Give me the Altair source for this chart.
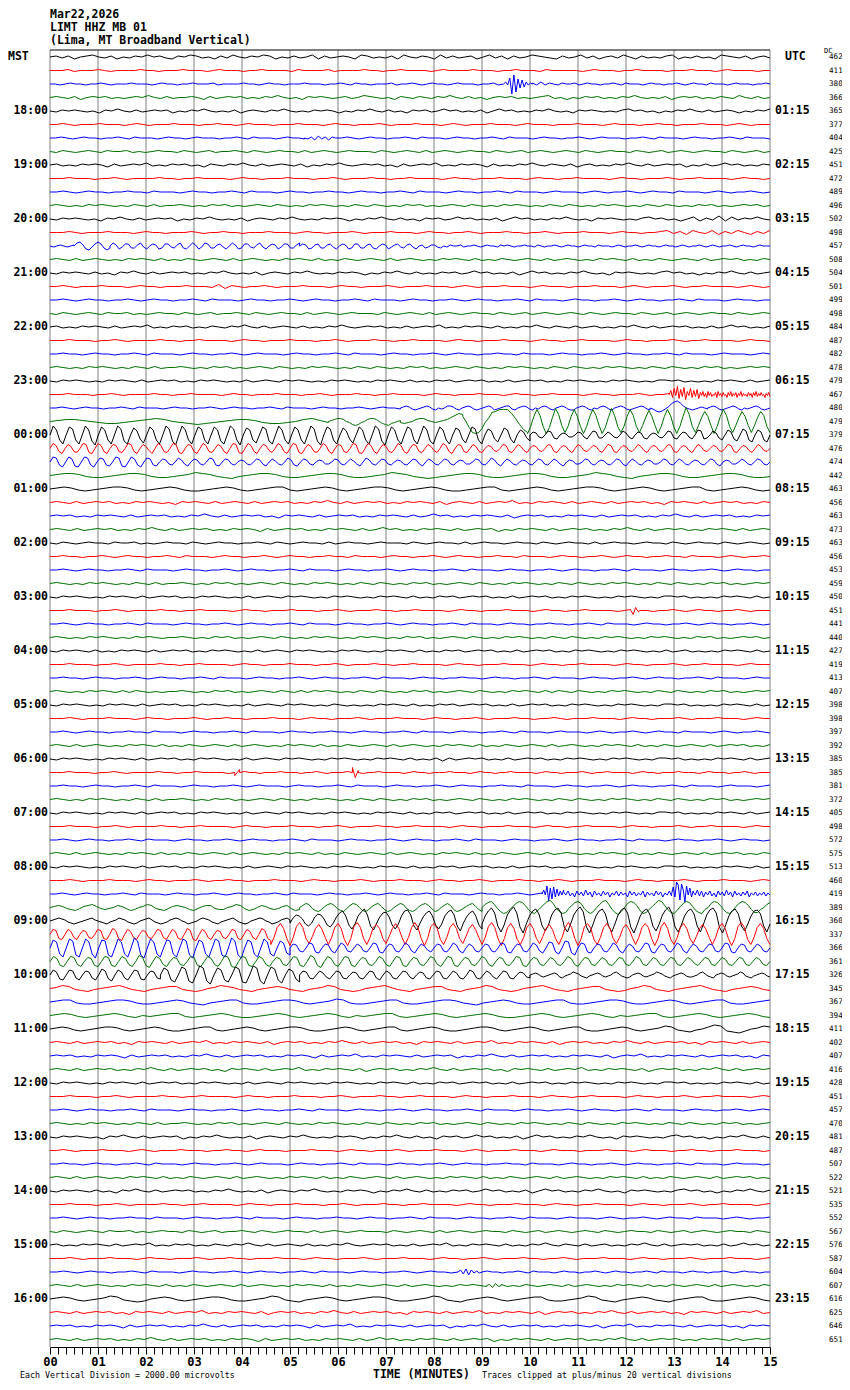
import altair as alt
import pandas as pd

ROW_STEP = 13.5
TRACE_COLORS = ["#000000", "#ff0000", "#0000ff", "#007000"]
COLOR_KEYS = ["k", "r", "b", "g"]
MONO = "DejaVu Sans Mono"

HEADER_LINES = ["Mar22,2026", "LIMT HHZ MB 01", "(Lima, MT Broadband Vertical)"]
LEFT_LABELS = ["18:00", "19:00", "20:00", "21:00", "22:00", "23:00", "00:00", "01:00",
               "02:00", "03:00", "04:00", "05:00", "06:00", "07:00", "08:00", "09:00",
               "10:00", "11:00", "12:00", "13:00", "14:00", "15:00", "16:00"]
RIGHT_LABELS = ["01:15", "02:15", "03:15", "04:15", "05:15", "06:15", "07:15", "08:15",
                "09:15", "10:15", "11:15", "12:15", "13:15", "14:15", "15:15", "16:15",
                "17:15", "18:15", "19:15", "20:15", "21:15", "22:15", "23:15"]
LABEL_ROWS = [4, 8, 12, 16, 20, 24, 28, 32, 36, 40, 44, 48, 52, 56, 60, 64, 68, 72, 76, 80, 84, 88, 92]
DC_VALUES = [462, 411, 380, 366, 365, 377, 404, 425, 451, 472,
             489, 496, 502, 498, 457, 508, 504, 501, 499, 498,
             484, 487, 482, 478, 479, 467, 480, 479, 379, 476,
             474, 442, 463, 456, 463, 473, 463, 456, 453, 459,
             450, 451, 441, 440, 427, 419, 413, 407, 398, 398,
             397, 392, 385, 385, 381, 372, 405, 498, 572, 575,
             513, 460, 419, 389, 360, 337, 366, 361, 326, 345,
             367, 394, 411, 402, 407, 416, 428, 451, 457, 470,
             481, 487, 507, 522, 521, 535, 552, 567, 576, 587,
             604, 607, 616, 625, 646, 651]
MINUTE_LINES = list(range(16))
TICK_VALUES = [round(k / 6, 5) for k in range(91)]

# Each trace: list of (start_minute, end_minute, samples). Sample chars are pixel offsets:
# '0'-'9' -> 0..9 up, 'A'-'K' -> 10..20 up, 'a'-'t' -> 1..20 down.
TRACES = [
    # 0
    [(0, 15, "01a1b0120a1b0a10201ab1021a0b1a20a1021b0a1a02b1a010b21a0a1b20a10b2a1a01b02a1b1a0210ab1a02a1b01a20b1a0a12b0a1a0b210a1b01a")],
    [(0, 15, "0001a00010a0000100a0001000a01000a0010000a100001a0000100a0010000a0100001000a001000a100000a01000a0010000a0001000a010000a00")],
    [(0, 9.45, "00a0100a0010a0001000a0100a0010001a0000100a0100a0001000a0010a100a0001a0010a0100a01000a001a0"),
     (9.45, 10.05, "02a6j9h5d4c2a10"),
     (10.05, 15, "1a2a10a1001a0100a0010a1000a0100a0010a0100a1000a01000a0010")],
    [(0, 15, "010a1b0101a0a01020a1a0010b1a0101a0a1020a0b1010a01a0210a0b10a10a1020a1a0b0101a0a012a0b0a101a0a1020a0a1b0101a0a10a20a1a0")],
    # 4
    [(0, 15, "0a1010a0b1020a1a0101b0a1020a0a1b010a1020a0a1010b0a1020a1a0b101a0201a0a1b0201a0a1020a0b1010a0a1201a0b0a1020a1a010b0a102")],
    [(0, 15, "0010a0001000a010a0001000a00100a01000a0001000a0100a00010a0001000a010a0001000a01000a0001000a01000a00100a0001000a010a000")],
    [(0, 5.3, "0010a0100a0010a1000a0100a01000a0010a1000a0100a"),
     (5.3, 5.95, "0a1b2a1b10"),
     (5.95, 15, "0010a0100a0010a1000a0100a0010a1000a0100a0010a01000a0010a1000a0100a0010a1000a")],
    [(0, 15, "0a10a010a1001a0a0100a10a01a0010a10a0100a1a010a01000a10a010a1a010a0100a10a01a010a010a10a0100a10a01a010a0100a10a01a0")],
    # 8
    [(0, 15, "01a0a1010b1a0102a0a101a0b10a1020a1a010a1b0a1020a0101a0b1a0102a0a1010b1a0a1020a10a1b01a0a1020a1a0101b0a1a0201a0a10")],
    [(0, 15, "0001000a0010a0000100a0010000a0100a0001000a0010a000100a0010000a0100a0001000a0100a0010000a0100a00010a0010000a0100a0")],
    [(0, 15, "0010a0100a00100a1000a0100a0010a1000a0100a00100a0100a0010a1000a0100a0010a1000a01000a010a0010a0100a1000a010a0010a0")],
    [(0, 15, "010a0a1010a0a10a1a0010a0a101a0a010a10a0a1010a0a10a10a0a101a0a010a10a0a1010a0a10a10a0a1010a0a10a10a0a101a0a0101a0")],
    # 12
    [(0, 15, "0a1010a0b1020a1a0101b0a1020a0a1b010a1020a0a1010b0a1020a1a0b101a0201a0a1b0201a0a1020a0b1010a0a1201a0b02b1a3b2a1020a")],
    [(0, 15, "00010a0001000a0100a00010a00100a0001000a0100a00010a0001000a0100a0010a000100a0010a0001000a0100a0012a1b20a2b1a20b1a2")],
    [(0, 0.5, "0a010a01"),
     (0.5, 1.25, "0341cda242bdb"),
     (1.25, 5.2, "031ca22bb13ac021cb22ab13bc031ca32bb12ac031cb22ab13ac021ca22bb13"),
     (5.2, 8.2, "021cb12bb12ac021cb22bb12bc021ca12ab12ac01ba11ab0"),
     (8.2, 15, "0a1001a0010a0100a1010a00100a10a0010a0100a0100a1000a010a0010a0100a0100a010a0010a010a0010a0100a01000")],
    [(0, 15, "010a1a010a0a1010a1a0a10a010a1a010a0a1010a1a0a10a010a1a010a0a1010a1a0a10a010a1a010a0a1010a1a0a10a010a1a0101a0a10")],
    # 16
    [(0, 15, "0a1010a1a0b1020a1a0101a0a1020a0a1b010a1020a0a1010b0a1020a1a0a101a0201a0a1b0201a0a1020a0b1010a0a1201a0b0a1020a1a01")],
    [(0, 15, "0010a0001000a0100a0001000a2b10a0010a0001000a0100a00010a0001000a010a0001000a01000a0001000a010a00010a0010000a010a0")],
    [(0, 15, "0010a0100a0010a0100a0010a1000a0100a0010a0100a0010a1000a0100a0010a0100a0010a1000a0100a0010a0100a0010a1000a0100a00")],
    [(0, 15, "0a10a010a1001a0a0100a10a01a0010a10a0100a1a010a01000a10a010a1a010a0100a10a01a010a010a10a0100a10a01a010a0100a10a010")],
    # 20
    [(0, 15, "01a0a1010a1a0102a0a101a0a10a1020a1a010a1a0a1020a0101a0a1a0102a0a1010a1a0a1020a10a1a01a0a1020a1a0101a0a1a0201a0a1")],
    [(0, 15, "0001000a0010a0000100a0010000a0100a0001000a0010a000100a0010000a0100a0001000a0100a0010000a0100a00010a0010000a0100a")],
    [(0, 15, "00100a0100a0010a1000a0100a0010a01000a0100a0010a1000a0100a0010a0100a00100a1000a0100a0010a0100a0010a1000a01000a010")],
    [(0, 15, "010a0a1010a0a10a1a0010a0a101a0a010a10a0a1010a0a10a10a0a101a0a010a10a0a1010a0a10a10a0a1010a0a10a10a0a101a0a01010")],
    # 24
    [(0, 15, "0a1010a0a1010a1a0101a0a1010a0a1a010a1010a0a1010a0a1010a1a0a101a0101a0a1a0101a0a1010a0a1010a0a1101a0a0a1010a1a01")],
    [(0, 12.9, "0001000a0010a0000100a0010000a0100a0001000a0010a000100a0010000a0100a0001000a0100a0010000a0100a00010a001"),
     (12.9, 13.55, "04c6a8d5b7e3a6c4b5d2"),
     (13.55, 15, "2a3b1c3a2b0a2c3a1b2a0c2a3b1a2c1a3b1a0b2a1c2a3b1a2a0c1a2b")],
    [(0, 7.3, "0010a0100a0010a1000a0100a0010a0100a0010a1000a0100a0010a0100a"),
     (7.3, 12.5, "0121aba0121ab0a0221ab0121aba0121ba0122ab0121ab0a121ab0121abb0121ab0a121ab0121aba0121ab"),
     (12.5, 13.7, "0acdca1467520aba010a"),
     (13.7, 15, "0121aba0121ab0a0121aba0")],
    [(0, 5.8, "012210abba012320abcba01221abba0231a"),
     (5.8, 7.3, "0123320acdca023320bcdba01"),
     (7.3, 8.6, "aba023310a0124687"),
     (8.6, 9.2, "50fklkga38"),
     (9.2, 9.95, "9ACCC83chk"),
     (9.95, 15, "le5C6elf4D7dke5C5ele5C6dlf4D6eke5C6ekd4B5dle5C6ele5E7ekd4A5dle5C6ekd4A5dkd4A6ek")],
    # 28
    [(0, 10.0, "095ei086ei095fj085ei096fi074dh085ei096fj095ei086ei085fi096ej075eh086fi095ei085ei096fj086ei074dh085ei096fj085ei086ei095fi085ei075dh086ei064dg075dh053cf"),
     (10.0, 15, "032bc043cd021bb032bd043cc031bc042bd032cd021bc043cd032bd054dc042ce053df064eg053eg0")],
    [(0, 15, "053ce042cd054de053ce043cd054ce042be053cd054de043ce053cd042ce054de053ce043bd053ce054de042cd053ce043cd054de053ce042cd053ce043cd042bd053ce043cd042cd032bc043cd042bd032bc043cd032bd042bc032bd043cd032bc042bd032bc043cd032bd042bc032bc043cd032bd042bc0")],
    [(0, 15, "054ce053de054ce043cd054de053ce043cd032bc042bd032bc043cd032bc021bc032bd031bc042cd032bc021bb032bc031bd042bc032bc021bc032bd031bc032bc021bb032bc042bd031bc021bc032bc031bd021bb032bc021bc032bd031bc021bb032bc031bc021bc032bd021bb031bc032bc0")],
    [(0, 15, "01221abba01221abba01321abca01221abba01221abba01321abcba01221abba01221abba01321abca01221abba01221abba")],
    # 32
    [(0, 15, "0121aba01221aba0121abba0121aba0122aba0121aba01221aba0121abba0122aba0121aba01221aba0121aba0122aba0121aba")],
    [(0, 15, "010a1a0101a0a1010a0b1010a1a010a1a0101a0a1020a1a0101a0a1010a1b010a1a0102a0a1010a1a010a1a0101a0b1010a1a0101a0a10")],
    [(0, 15, "0101a0a1010a1a0101a0a1020a1a0101a0b1010a1a0101a0a1010a1a0201a0a1010a1b0101a0a1010a1a0101a0a1020a1a0101a0a101")],
    [(0, 15, "010a1a0101a0a1020a1a0101a0a1010b1a0101a0a1010a1a0201a0a1010a1a0101b0a1010a1a0101a0a1020a1a0101a0a1010a1a010")],
    # 36
    [(0, 15, "0a10a0100a1001a0a0100a10a0100a0010a10a0100a1a0100a01000a10a0100a1a0100a0100a10a0100a1a0100a0100a10a0100a10a010a0")],
    [(0, 15, "00100a0010a0100a0010a1000a0100a0010a0100a00100a1000a0100a0010a0100a00100a1000a0100a0010a0100a00100a1000a010a0010")],
    [(0, 15, "0010a0100a0010a1000a0100a0010a0100a0010a1000a0100a0010a0100a0010a1000a0100a0010a0100a0010a1000a0100a0010a0100a00")],
    [(0, 15, "010a0a1010a0a10a1a0010a0a101a0a010a10a0a1010a0a10a10a0a101a0a010a10a0a1010a0a10a10a0a1010a0a10a10a0a101a0a0101")],
    # 40
    [(0, 15, "0a1010a0a1010a1a0101a0a1010a0a1a010a1010a0a1010a0a1010a1a0a101a0101a0a1a0101a0a1010a0a1010a0a1101a0a0a1010a1a0")],
    [(0, 12.1, "0001000a0010a0000100a0010000a0100a0001000a0010a000100a0010000a0100a0001000a0100a0010000a01"),
     (12.1, 12.3, "0d3a0"),
     (12.3, 15, "00a0010a0100a0010a000")],
    [(0, 15, "0010a0100a0010a1000a0100a0010a0100a0010a1000a0100a0010a0100a0010a1000a0100a00100a0010a1000a0100a0010a0100a0010a0")],
    [(0, 15, "010a0a1010a0a1010a0010a0a101a0a010a10a0a1010a0a1010a0a101a0a010a10a0a1010a0a10a10a0a1010a0a1010a0a101a0a0101a0")],
    # 44
    [(0, 15, "0a1010a1a0a1010a1a0101a0a1010a0a1a010a1010a0a1010a0a1010a1a0a101a0101a0a1a0101a0a1010a0a1010a0a1a01a0a0a1010a1a0")],
    [(0, 15, "0001000a0010a0000100a0010000a0100a0001000a0010a000100a0010000a0100a0001000a0100a0010000a0100a00010a0010000a01000")],
    [(0, 15, "00100a0100a0010a0100a0010a1000a0100a0010a0100a0010a1000a0100a00100a0100a0010a1000a0100a0010a0100a0010a1000a0100")],
    [(0, 15, "010a0a1010a1a10a0a0010a0a101a0a010a10a1a1010a0a10a10a0a101a0a010a10a0a1010a1a10a10a0a1010a0a10a10a0a101a0a0101")],
    # 48
    [(0, 15, "0a1010a0a1010a1a0101a0a1010a0a1a010a1010a0a10a0a0a1010a1a0a101a0101a0a1a0101a0a1010a0a1010a0a1101a0a0a1010a1a0")],
    [(0, 15, "00010a0001000a0100a00010a00100a0001000a0100a00010a0001000a0100a0010a000100a0010a0001000a0100a00010a0001000a0100")],
    [(0, 15, "0010a0100a00100a1000a0100a0010a1000a0100a00100a0100a0010a1000a0100a0010a1000a01000a010a0010a0100a1000a010a0010a")],
    [(0, 15, "010a1a010a0a1010a1a0a10a010a1a010a0a1010a1a0a10a010a1a010a0a1010a1a0a10a010a1a010a0a1010a1a0a10a010a1a0101a0a1")],
    # 52
    [(0, 15, "0a1010a0a1010a1a0101a0a1010a0a1a010a1010a0a1010a0a1010a1a0a1b1a0101a0a1a0101a0a1010a0a1010a0a1101a0a0a1010a1a01")],
    [(0, 3.85, "0001000a0010a0000100a0010000a0"),
     (3.85, 3.95, "c3"),
     (3.95, 6.3, "0100a0001000a0010a00010"),
     (6.3, 6.42, "5e2"),
     (6.42, 15, "0a0010000a0100a0001000a0100a0010000a0100a00010a0010000a0100a0001000a01000a0010a000")],
    [(0, 15, "00100a0100a0010a1000a0100a0010a01000a0100a0010a1000a0100a0010a0100a00100a1000a0100a0010a0100a0010a1000a01000a01")],
    [(0, 15, "010a0a1010a0a10a1a0010a0a101a0a010a10a0a1010a0a10a10a0a101a0a010a10a0a1010a0a10a10a0a1010a0a10a10a0a101a0a0101")],
    # 56
    [(0, 15, "0a1010a0a1010a1a0101a0a1010a0a1a010a1010a0a1010a0a1010a1a0a101a0101a0a1a0101a0a1010a0a1010a0a1101a0a0a1010a1a01")],
    [(0, 15, "0001000a0010a0000100a0010000a0100a0001000a0010a000100a0010000a0100a0001000a0100a0010000a0100a00010a0010000a0100")],
    [(0, 15, "0010a0100a0010a1000a0100a0010a0100a0010a1000a0100a0010a0100a0010a1000a0100a0010a0100a0010a1000a0100a0010a0100a0")],
    [(0, 15, "010a1a010a0a1010a1a0a10a010a1a010a0a1010a1a0a10a010a1a010a0a1010a1a0a10a010a1a010a0a1010a1a0a10a010a1a0101a0a10")],
    # 60
    [(0, 15, "0a1010a0a1010a1a0101a0a1010a0a1a010a1010a0a1010a0a1010a1a0a101a0101a0a1a0101a0a1010a0a1010a0a1101a0a0a1010a1a0")],
    [(0, 15, "00010a0001000a0100a00010a00100a0001000a0100a00010a0001000a0100a0010a000100a0010a0001000a0100a00010a0001000a010")],
    [(0, 10.25, "0010a0100a0010a1000a0100a0010a0100a0010a1000a0100a0010a0100a0010a1000a0100a0010a01"),
     (10.25, 10.7, "04a8g6e7c5b3a4"),
     (10.7, 12.95, "2a3b1c3a2b4a2c3a1b3a2c1a3b2a1c3a2b1a3c2a1b3a2c1a3b"),
     (12.95, 13.4, "07cC9fA4h8a6c3"),
     (13.4, 15, "2a4b3c2a3b1c3a2b4a2c3a1b2a3c1a2b1a2b1a")],
    [(0, 5.2, "0121abca1231aba021acb0132abca1210bca122abb0132acb021aba12acb"),
     (5.2, 9.0, "0243acdb1342acda2430cdb1341bdc0243acdb1342adc0242bdca1341bd"),
     (9.0, 15, "03563adfeb14652befc03674adfea2564adfd03673begd04652cfeb14762befc14651cefb04652befc14652beeb035")],
    # 64
    [(0, 5.0, "012321abcba012310abca01321abcb01231abcba12320acba02321abca01231abcb012320acba1231"),
     (5.0, 9.0, "b3652ceb4762dfb48A5dhc59C6eib4894dhc5AB6eib48A5dhc59B6ejb48A5dh"),
     (9.0, 15, "c5AD8ekd6BE8flc5AC7ejd6BD8fkc6BE9fld5AC7ekc6BD8fld5AC7ejc6BE8fkd5AC7ekc6BD8fld5AC7ejc5AB7ekc")],
    [(0, 4.6, "054de053ce043cd054de064df053ce043cd054ce053de064ef053ce043cd054de053ce064df"),
     (4.6, 15, "jc7B6dkc8C7dib6A5cjc7B6ekd8C7djc7A6dib6B6cjc7C7dkd8B6ejc7B6dib6A5cjc8C7dkd7B6ejc7B6dib6A5djc7C7dkd8B6ejc7B6dic6A5cjc7B7dkd8C6ejc7B6dib6A5cjc7B6dkd8C7ejc7B6dj")],
    [(0, 5.0, "086fi097gi096fj087gi096fi0A7gj096fi087fi097gj086fi097gi0A7gj086fi096fh075eg"),
     (5.0, 15, "043cd054de043ce053cd042cd054de043cd053ce042bd043cd053ce042cd043cd054de043cd053ce065df076eg054de043cd053ce042cd054de043cd053ce042cd043cd054de043cd042cd0")],
    [(0, 15, "053de054ce043de054de053ce064df053ce043cd054de053ce064ef054de053ce043cd054de064df053ce054de043cd053ce054de043cd053ce054de043cd053ce043cd054de043cd042cd053ce043cd042cd043cd053cd042cd043cd042bd043cd042cd043cd042cd0")],
    # 68
    [(0, 2.3, "053de054ce043ce064df053ce054de043cd"),
     (2.3, 5.2, "075eg086fh097fi075eg086gh097fi086eh064dg"),
     (5.2, 10, "043cd042bd043cd032cd043ce042cd043bd032cd043cd042cd053cd042bd043cd032bc"),
     (10, 15, "0121aba0121bca01321abca0121aba0231abcb0121aba01321abca0121abba0231abc0121aba0132abca0121ab")],
    [(0, 15, "0132abca01231abca0122abcb01321abca0121abca0132abcb01231abca0122abca0132abcb01231abca0122abcb0132abca01231abca0121ab")],
    [(0, 15, "0122abba01221abba0121abca0122abba01221aba0132abba0122abba01221abca0121abba0122abba01221abba0121aba0122abba012")],
    [(0, 15, "0121aba0121ab0a0122aba0121abba0121aba0121ab0a0122aba0121aba0121abba0121aba0121ab0a0122aba0121aba0121ab")],
    # 72
    [(0, 15, "0121aba01221aba0121abba0122aba0121aba01221abba0121aba0122aba0121abba01221aba0121aba0122abba0121aba0132abca0243bcdb0132")],
    [(0, 15, "010a1a0101a0b1010a1a0102a0a1010a1b0101a0a1020a1a0101a0b1010a1a0102a0a1010a1b0101a0a1020a1a0101a0b1010a1a010")],
    [(0, 15, "0101a0a1010b1a0101a0a1020a1a0101a0a1010b1a0102a0a1010a1a0101b0a1020a1a0101a0a1010a1b0102a0a1010a1a0101a0b10")],
    [(0, 15, "010a1a0101a0a1020a1a0101a0b1010a1a0102a0a1010a1b0101a0a1020a1a0101a0b1010a1a0102a0a1010a1b0101a0a1020a1a0101")],
    # 76
    [(0, 15, "0a1010a0a1010a1a0101a0a1010a0a1a010a1010a0a1010a0a1010a1a0a101a0101a0a1a0101a0a1010a0a1010a0a1101a0a0a1010a1a0")],
    [(0, 15, "0001000a0010a0000100a0010000a0100a0001000a0010a000100a0010000a0100a0001000a0100a0010000a0100a00010a0010000a010")],
    [(0, 15, "0010a0100a0010a1000a0100a0010a0100a0010a1000a0100a0010a0100a0010a1000a0100a0010a0100a0010a1000a0100a0010a010")],
    [(0, 15, "010a0a1010a0a10a1a0010a0a101a0a010a10a0a1010a0a10a10a0a101a0a010a10a0a1010a0a10a10a0a1010a0a10a10a0a101a0a01")],
    # 80
    [(0, 15, "0a1010a0b1020a1a0101b0a1020a0a1b010a1020a0a1010b0a1020a1a0b101a0201a0a1b0201a0a1020a0b1010a0a1201a0b0a1020a1a")],
    [(0, 15, "0010a0001000a010a0001000a00100a01000a0001000a0100a00010a0001000a010a0001000a01000a0001000a01000a00100a0001000a0")],
    [(0, 15, "00100a0100a0010a1000a0100a0010a01000a0100a0010a1000a0100a0010a0100a00100a1000a0100a0010a0100a0010a1000a01000a0")],
    [(0, 15, "010a1a010a0a1010a1a0a10a010a1a010a0a1010a1a0a10a010a1a010a0a1010a1a0a10a010a1a010a0a1010a1a0a10a010a1a0101a0a")],
    # 84
    [(0, 15, "0a1010a1a0b1020a1a0101a0a1020a0a1b010a1020a0a1010b0a1020a1a0a101a0201a0a1b0201a0a1020a0b1010a0a1201a0b0a1020a1")],
    [(0, 15, "0001000a0010a0000100a0010000a0100a0001000a0010a000100a0010000a0100a0001000a0100a0010000a0100a00010a0010000a01")],
    [(0, 15, "0010a0100a00100a1000a0100a0010a1000a0100a00100a0100a0010a1000a0100a0010a1000a01000a010a0010a0100a1000a010a001")],
    [(0, 15, "0a10a010a1001a0a0100a10a01a0010a10a0100a1a010a01000a10a010a1a010a0100a10a01a010a010a10a0100a10a01a010a0100a10a")],
    # 88
    [(0, 15, "01a0a1010a1a0102a0a101a0a10a1020a1a010a1a0a1020a0101a0a1a0102a0a1010a1a0a1020a10a1a01a0a1020a1a0101a0a1a0201a0")],
    [(0, 15, "00010a0001000a0100a00010a00100a0001000a0100a00010a0001000a0100a0010a000100a0010a0001000a0100a00010a0001000a01")],
    [(0, 8.5, "0010a0100a0010a1000a0100a0010a0100a0010a1000a0100a0010a0100a0"),
     (8.5, 9.0, "02b3c2a1a0"),
     (9.0, 15, "0100a0010a1000a0100a0010a0100a0010a1000a0100a0010a0100a00")],
    [(0, 9.1, "010a1a010a0a1010a1a0a10a010a1a010a0a1010a1a0a10a010a1a010a0a1010a"),
     (9.1, 9.4, "01b2a0"),
     (9.4, 15, "1a0a10a010a1a010a0a1010a1a0a10a010a1a010a0a10")],
    # 92
    [(0, 15, "0121aba0132abcb0121aba01221abba0132abca0121aba01221abba0132abca0121aba0122abba0132abca0121abca0122abba0121ab")],
    [(0, 15, "010a1a0101a0b1010a1a0102a0a1010a1b0101a0a1020a1a0101a0b1010a1a0102a0a1010a1b0101a0a1020a1a0101a0b1010a1a0102a0")],
    [(0, 15, "0101a0a1010b1a0101a0a1020a1a0101a0a1010b1a0102a0a1010a1a0101b0a1020a1a0101a0a1010a1b0102a0a1010a1a0101a0b1010")],
    [(0, 15, "010a1a0101a0a1020a1a0101a0a1010b1a0101a0a1010a1a0201a0a1010a1a0101b0a1010a1a0101a0a1020a1a0101a0a1010a1a0101")],
]


def offset(ch):
    if ch.isdigit():
        return int(ch)
    if ch.islower():
        return -(ord(ch) - 96)
    return 10 + ord(ch) - 65


records = []
for r, segs in enumerate(TRACES):
    k = 0
    for (a, b, s) in segs:
        n = len(s)
        for i, ch in enumerate(s):
            x = a + (b - a) * i / (n - 1) if n > 1 else a
            records.append({"row": r, "k": k, "x": x,
                            "y": -r * ROW_STEP + offset(ch), "c": COLOR_KEYS[r % 4]})
            k += 1
df = pd.DataFrame(records)

X_SCALE = alt.Scale(domain=[0, 15], nice=False, zero=False)
Y_SCALE = alt.Scale(domain=[-1290, 7], nice=False, zero=False)

label_expr = ("abs(datum.value - round(datum.value)) < 0.01 ? "
              "(round(datum.value) < 10 ? '0' + round(datum.value) : '' + round(datum.value)) : ''")

X_AXIS = alt.Axis(
    values=TICK_VALUES, labelExpr=label_expr, tickSize=7, tickColor="black",
    tickWidth=1, domainColor="black", domainWidth=1, labelFont=MONO,
    labelFontWeight="bold", labelFontSize=12, labelColor="black", labelPadding=2,
    labelFlush=False, labelOverlap=False, grid=False, title="")

grid = alt.Chart(pd.DataFrame({"m": MINUTE_LINES})).mark_rule(
    color="#808080", strokeWidth=1).encode(x=alt.X("m:Q", scale=X_SCALE, axis=X_AXIS))

traces = alt.Chart(df).mark_line(strokeWidth=1).encode(
    x=alt.X("x:Q", scale=X_SCALE, axis=X_AXIS),
    y=alt.Y("y:Q", scale=Y_SCALE, axis=None),
    color=alt.Color("c:N", scale=alt.Scale(domain=COLOR_KEYS, range=TRACE_COLORS), legend=None),
    detail="row:N",
    order="k:Q",
)

top_line = alt.Chart(pd.DataFrame({"a": [0]})).mark_rule(color="black", strokeWidth=1).encode(
    x=alt.value(0), x2=alt.value(720), y=alt.value(0))

lab_df = pd.DataFrame({"y": [-r * ROW_STEP for r in LABEL_ROWS],
                       "left": LEFT_LABELS, "right": RIGHT_LABELS})
left_labels = alt.Chart(lab_df).mark_text(
    align="right", baseline="middle", font=MONO, fontSize=11.5, fontWeight="bold",
    color="black").encode(y=alt.Y("y:Q", scale=Y_SCALE, axis=None), x=alt.value(-2), text="left:N")
right_labels = alt.Chart(lab_df).mark_text(
    align="left", baseline="middle", font=MONO, fontSize=11.5, fontWeight="bold",
    color="black").encode(y=alt.Y("y:Q", scale=Y_SCALE, axis=None), x=alt.value(725), text="right:N")

dc_df = pd.DataFrame({"y": [-r * ROW_STEP for r in range(len(DC_VALUES))],
                      "t": [str(v) for v in DC_VALUES]})
dc_labels = alt.Chart(dc_df).mark_text(
    align="left", baseline="middle", font=MONO, fontSize=7.6, color="black").encode(
    y=alt.Y("y:Q", scale=Y_SCALE, axis=None), x=alt.value(779), text="t:N")


def static_text(text, x, y, size, weight="bold", align="left"):
    return alt.Chart(pd.DataFrame({"t": [text]})).mark_text(
        align=align, baseline="middle", font=MONO, fontSize=size, fontWeight=weight,
        color="black").encode(text="t:N", x=alt.value(x), y=alt.value(y))


texts = [
    static_text(HEADER_LINES[0], 0, -35, 11.5),
    static_text(HEADER_LINES[1], 0, -22, 11.5),
    static_text(HEADER_LINES[2], 0, -9, 11.5),
    static_text("MST", -42, 7, 11.5),
    static_text("UTC", 735, 7, 11.5),
    static_text("DC", 774, 1, 7, weight="normal"),
    static_text("Each Vertical Division = 2000.00 microvolts", -30, 1326, 8.3, weight="normal"),
    static_text("TIME (MINUTES)", 323, 1325, 11.5),
    static_text("Traces clipped at plus/minus 20 vertical divisions", 432, 1326, 8.3, weight="normal"),
]

chart = alt.layer(grid, traces, top_line, left_labels, right_labels, dc_labels, *texts).properties(
    width=720, height=1297,
    autosize=alt.AutoSizeParams(type="none"),
    padding={"left": 42, "top": 42, "right": 72, "bottom": 33},
).configure_view(strokeWidth=0)

chart.save("out.html", embed_options={"renderer": "svg", "actions": False})
